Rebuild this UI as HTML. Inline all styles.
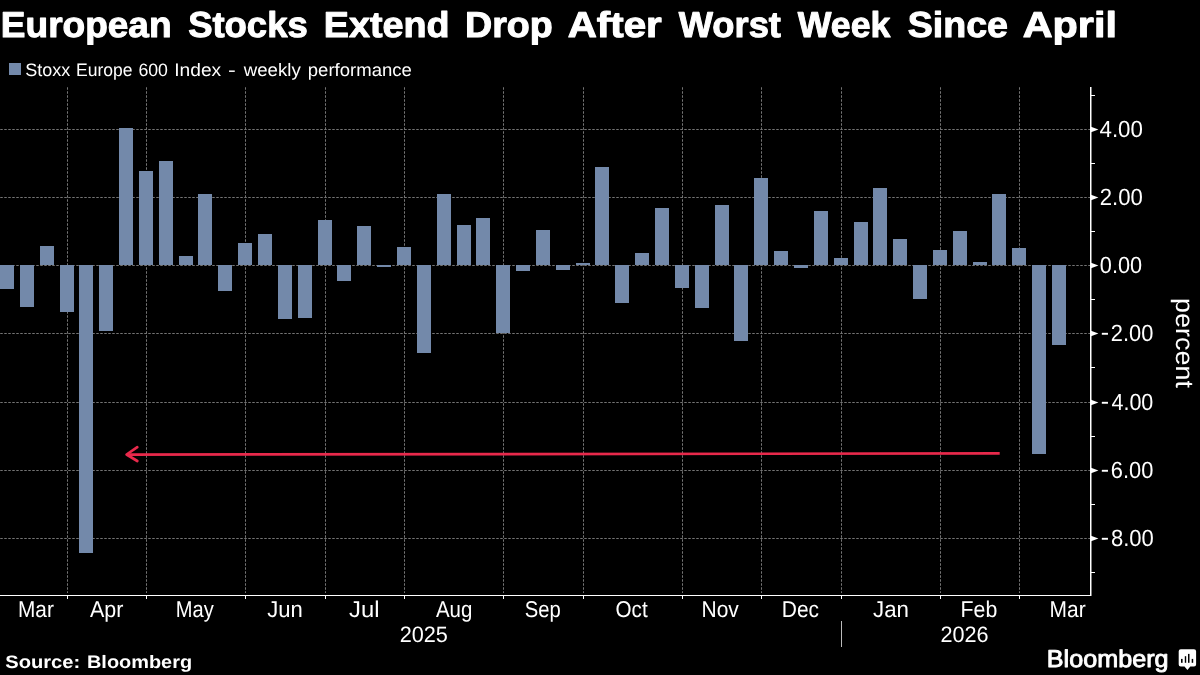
<!DOCTYPE html><html><head><meta charset="utf-8"><style>html,body{margin:0;padding:0;background:#000;}body{width:1200px;height:675px;overflow:hidden;}svg{display:block;will-change:transform;}text{font-family:"Liberation Sans",sans-serif;fill:#fff;white-space:pre;text-rendering:geometricPrecision;}</style></head><body>
<svg width="1200" height="675" viewBox="0 0 1200 675">
<rect width="1200" height="675" fill="#000"/>
<line x1="0" y1="129.5" x2="1090" y2="129.5" stroke="#747474" stroke-width="1" stroke-dasharray="2.5,1.5" stroke-dashoffset="-0.25"/>
<line x1="0" y1="197.5" x2="1090" y2="197.5" stroke="#747474" stroke-width="1" stroke-dasharray="2.5,1.5" stroke-dashoffset="-0.25"/>
<line x1="0" y1="265.5" x2="1090" y2="265.5" stroke="#747474" stroke-width="1" stroke-dasharray="2.5,1.5" stroke-dashoffset="-0.25"/>
<line x1="0" y1="333.5" x2="1090" y2="333.5" stroke="#747474" stroke-width="1" stroke-dasharray="2.5,1.5" stroke-dashoffset="-0.25"/>
<line x1="0" y1="402.5" x2="1090" y2="402.5" stroke="#747474" stroke-width="1" stroke-dasharray="2.5,1.5" stroke-dashoffset="-0.25"/>
<line x1="0" y1="470.5" x2="1090" y2="470.5" stroke="#747474" stroke-width="1" stroke-dasharray="2.5,1.5" stroke-dashoffset="-0.25"/>
<line x1="0" y1="538.5" x2="1090" y2="538.5" stroke="#747474" stroke-width="1" stroke-dasharray="2.5,1.5" stroke-dashoffset="-0.25"/>
<line x1="67.5" y1="87" x2="67.5" y2="593" stroke="#747474" stroke-width="1" stroke-dasharray="2.5,1.5" stroke-dashoffset="-0.25"/>
<line x1="146.5" y1="87" x2="146.5" y2="593" stroke="#747474" stroke-width="1" stroke-dasharray="2.5,1.5" stroke-dashoffset="-0.25"/>
<line x1="245.5" y1="87" x2="245.5" y2="593" stroke="#747474" stroke-width="1" stroke-dasharray="2.5,1.5" stroke-dashoffset="-0.25"/>
<line x1="325.5" y1="87" x2="325.5" y2="593" stroke="#747474" stroke-width="1" stroke-dasharray="2.5,1.5" stroke-dashoffset="-0.25"/>
<line x1="404.5" y1="87" x2="404.5" y2="593" stroke="#747474" stroke-width="1" stroke-dasharray="2.5,1.5" stroke-dashoffset="-0.25"/>
<line x1="503.5" y1="87" x2="503.5" y2="593" stroke="#747474" stroke-width="1" stroke-dasharray="2.5,1.5" stroke-dashoffset="-0.25"/>
<line x1="583.5" y1="87" x2="583.5" y2="593" stroke="#747474" stroke-width="1" stroke-dasharray="2.5,1.5" stroke-dashoffset="-0.25"/>
<line x1="682.5" y1="87" x2="682.5" y2="593" stroke="#747474" stroke-width="1" stroke-dasharray="2.5,1.5" stroke-dashoffset="-0.25"/>
<line x1="761.5" y1="87" x2="761.5" y2="593" stroke="#747474" stroke-width="1" stroke-dasharray="2.5,1.5" stroke-dashoffset="-0.25"/>
<line x1="841.5" y1="87" x2="841.5" y2="593" stroke="#747474" stroke-width="1" stroke-dasharray="2.5,1.5" stroke-dashoffset="-0.25"/>
<line x1="940.5" y1="87" x2="940.5" y2="593" stroke="#747474" stroke-width="1" stroke-dasharray="2.5,1.5" stroke-dashoffset="-0.25"/>
<line x1="1019.5" y1="87" x2="1019.5" y2="593" stroke="#747474" stroke-width="1" stroke-dasharray="2.5,1.5" stroke-dashoffset="-0.25"/>
<rect x="0" y="265" width="14" height="24" fill="#7389AA"/>
<rect x="20" y="265" width="14" height="42" fill="#7389AA"/>
<rect x="40" y="246" width="14" height="19" fill="#7389AA"/>
<rect x="60" y="265" width="14" height="47" fill="#7389AA"/>
<rect x="79" y="265" width="14" height="288" fill="#7389AA"/>
<rect x="99" y="265" width="14" height="66" fill="#7389AA"/>
<rect x="119" y="128" width="14" height="137" fill="#7389AA"/>
<rect x="139" y="171" width="14" height="94" fill="#7389AA"/>
<rect x="159" y="161" width="14" height="104" fill="#7389AA"/>
<rect x="179" y="256" width="14" height="9" fill="#7389AA"/>
<rect x="198" y="194" width="14" height="71" fill="#7389AA"/>
<rect x="218" y="265" width="14" height="26" fill="#7389AA"/>
<rect x="238" y="243" width="14" height="22" fill="#7389AA"/>
<rect x="258" y="234" width="14" height="31" fill="#7389AA"/>
<rect x="278" y="265" width="14" height="54" fill="#7389AA"/>
<rect x="298" y="265" width="14" height="53" fill="#7389AA"/>
<rect x="318" y="220" width="14" height="45" fill="#7389AA"/>
<rect x="337" y="265" width="14" height="16" fill="#7389AA"/>
<rect x="357" y="226" width="14" height="39" fill="#7389AA"/>
<rect x="377" y="265" width="14" height="2" fill="#7389AA"/>
<rect x="397" y="247" width="14" height="18" fill="#7389AA"/>
<rect x="417" y="265" width="14" height="88" fill="#7389AA"/>
<rect x="437" y="194" width="14" height="71" fill="#7389AA"/>
<rect x="457" y="225" width="14" height="40" fill="#7389AA"/>
<rect x="476" y="218" width="14" height="47" fill="#7389AA"/>
<rect x="496" y="265" width="14" height="68" fill="#7389AA"/>
<rect x="516" y="265" width="14" height="6" fill="#7389AA"/>
<rect x="536" y="230" width="14" height="35" fill="#7389AA"/>
<rect x="556" y="265" width="14" height="5" fill="#7389AA"/>
<rect x="576" y="263" width="14" height="2" fill="#7389AA"/>
<rect x="595" y="167" width="14" height="98" fill="#7389AA"/>
<rect x="615" y="265" width="14" height="38" fill="#7389AA"/>
<rect x="635" y="253" width="14" height="12" fill="#7389AA"/>
<rect x="655" y="208" width="14" height="57" fill="#7389AA"/>
<rect x="675" y="265" width="14" height="23" fill="#7389AA"/>
<rect x="695" y="265" width="14" height="43" fill="#7389AA"/>
<rect x="715" y="205" width="14" height="60" fill="#7389AA"/>
<rect x="734" y="265" width="14" height="76" fill="#7389AA"/>
<rect x="754" y="178" width="14" height="87" fill="#7389AA"/>
<rect x="774" y="251" width="14" height="14" fill="#7389AA"/>
<rect x="794" y="265" width="14" height="3" fill="#7389AA"/>
<rect x="814" y="211" width="14" height="54" fill="#7389AA"/>
<rect x="834" y="258" width="14" height="7" fill="#7389AA"/>
<rect x="854" y="222" width="14" height="43" fill="#7389AA"/>
<rect x="873" y="188" width="14" height="77" fill="#7389AA"/>
<rect x="893" y="239" width="14" height="26" fill="#7389AA"/>
<rect x="913" y="265" width="14" height="34" fill="#7389AA"/>
<rect x="933" y="250" width="14" height="15" fill="#7389AA"/>
<rect x="953" y="231" width="14" height="34" fill="#7389AA"/>
<rect x="973" y="262" width="14" height="3" fill="#7389AA"/>
<rect x="992" y="194" width="14" height="71" fill="#7389AA"/>
<rect x="1012" y="248" width="14" height="17" fill="#7389AA"/>
<rect x="1032" y="265" width="14" height="189" fill="#7389AA"/>
<rect x="1052" y="265" width="14" height="80" fill="#7389AA"/>
<line x1="127" y1="454.53" x2="999.7" y2="453.45" stroke="#E8294B" stroke-width="2.7"/>
<polyline points="137.3,447.2 126.6,454.5 137.3,461.0" fill="none" stroke="#E8294B" stroke-width="2.7" stroke-linejoin="round" stroke-linecap="round"/>
<line x1="1090.75" y1="87" x2="1090.75" y2="596" stroke="#fff" stroke-width="1.5"/>
<line x1="0" y1="595.5" x2="1091" y2="595.5" stroke="#fff" stroke-width="1.1"/>
<line x1="67.5" y1="595" x2="67.5" y2="599" stroke="#fff" stroke-width="1"/>
<line x1="146.5" y1="595" x2="146.5" y2="599" stroke="#fff" stroke-width="1"/>
<line x1="245.5" y1="595" x2="245.5" y2="599" stroke="#fff" stroke-width="1"/>
<line x1="325.5" y1="595" x2="325.5" y2="599" stroke="#fff" stroke-width="1"/>
<line x1="404.5" y1="595" x2="404.5" y2="599" stroke="#fff" stroke-width="1"/>
<line x1="503.5" y1="595" x2="503.5" y2="599" stroke="#fff" stroke-width="1"/>
<line x1="583.5" y1="595" x2="583.5" y2="599" stroke="#fff" stroke-width="1"/>
<line x1="682.5" y1="595" x2="682.5" y2="599" stroke="#fff" stroke-width="1"/>
<line x1="761.5" y1="595" x2="761.5" y2="599" stroke="#fff" stroke-width="1"/>
<line x1="841.5" y1="595" x2="841.5" y2="599" stroke="#fff" stroke-width="1"/>
<line x1="940.5" y1="595" x2="940.5" y2="599" stroke="#fff" stroke-width="1"/>
<line x1="1019.5" y1="595" x2="1019.5" y2="599" stroke="#fff" stroke-width="1"/>
<line x1="1091" y1="572.5" x2="1095" y2="572.5" stroke="#fff" stroke-width="1"/>
<polygon points="1091,535.7 1098.4,538.5 1091,541.3" fill="#fff"/>
<text x="1100.89" y="544.8" font-size="23.4" textLength="8.32" lengthAdjust="spacingAndGlyphs">-</text>
<text x="1110.94" y="546.4" font-size="23.4" textLength="42.92" lengthAdjust="spacingAndGlyphs">8.00</text>
<line x1="1091" y1="504.5" x2="1095" y2="504.5" stroke="#fff" stroke-width="1"/>
<polygon points="1091,467.7 1098.4,470.5 1091,473.3" fill="#fff"/>
<text x="1100.89" y="476.8" font-size="23.4" textLength="8.32" lengthAdjust="spacingAndGlyphs">-</text>
<text x="1110.79" y="478.4" font-size="23.4" textLength="42.56" lengthAdjust="spacingAndGlyphs">6.00</text>
<line x1="1091" y1="436.5" x2="1095" y2="436.5" stroke="#fff" stroke-width="1"/>
<polygon points="1091,399.7 1098.4,402.5 1091,405.3" fill="#fff"/>
<text x="1100.89" y="408.8" font-size="23.4" textLength="8.32" lengthAdjust="spacingAndGlyphs">-</text>
<text x="1111.41" y="410.4" font-size="23.4" textLength="41.94" lengthAdjust="spacingAndGlyphs">4.00</text>
<line x1="1091" y1="367.5" x2="1095" y2="367.5" stroke="#fff" stroke-width="1"/>
<polygon points="1091,330.7 1098.4,333.5 1091,336.3" fill="#fff"/>
<text x="1100.89" y="339.8" font-size="23.4" textLength="8.32" lengthAdjust="spacingAndGlyphs">-</text>
<text x="1110.80" y="341.4" font-size="23.4" textLength="42.55" lengthAdjust="spacingAndGlyphs">2.00</text>
<line x1="1091" y1="299.5" x2="1095" y2="299.5" stroke="#fff" stroke-width="1"/>
<polygon points="1091,262.7 1098.4,265.5 1091,268.3" fill="#fff"/>
<text x="1099.85" y="273.4" font-size="23.4" textLength="42.30" lengthAdjust="spacingAndGlyphs">0.00</text>
<line x1="1091" y1="231.5" x2="1095" y2="231.5" stroke="#fff" stroke-width="1"/>
<polygon points="1091,194.7 1098.4,197.5 1091,200.3" fill="#fff"/>
<text x="1099.69" y="205.4" font-size="23.4" textLength="43.08" lengthAdjust="spacingAndGlyphs">2.00</text>
<line x1="1091" y1="163.5" x2="1095" y2="163.5" stroke="#fff" stroke-width="1"/>
<polygon points="1091,126.7 1098.4,129.5 1091,132.3" fill="#fff"/>
<text x="1099.49" y="137.4" font-size="23.4" textLength="43.38" lengthAdjust="spacingAndGlyphs">4.00</text>
<line x1="1091" y1="95.5" x2="1095" y2="95.5" stroke="#fff" stroke-width="1"/>
<text x="298.06" y="0" font-size="25" textLength="89.83" lengthAdjust="spacingAndGlyphs" transform="translate(1175.6,0) rotate(90 0 0)">percent</text>
<text x="17.99" y="616.8" font-size="22.8" textLength="35.85" lengthAdjust="spacingAndGlyphs">Mar</text>
<text x="89.96" y="616.8" font-size="22.8" textLength="33.40" lengthAdjust="spacingAndGlyphs">Apr</text>
<text x="175.85" y="616.8" font-size="22.8" textLength="37.94" lengthAdjust="spacingAndGlyphs">May</text>
<text x="267.16" y="616.8" font-size="22.8" textLength="35.53" lengthAdjust="spacingAndGlyphs">Jun</text>
<text x="349.13" y="616.8" font-size="22.8" textLength="30.47" lengthAdjust="spacingAndGlyphs">Jul</text>
<text x="435.96" y="616.8" font-size="22.8" textLength="36.36" lengthAdjust="spacingAndGlyphs">Aug</text>
<text x="524.83" y="616.8" font-size="22.8" textLength="36.02" lengthAdjust="spacingAndGlyphs">Sep</text>
<text x="615.52" y="616.8" font-size="22.8" textLength="32.13" lengthAdjust="spacingAndGlyphs">Oct</text>
<text x="701.53" y="616.8" font-size="22.8" textLength="37.29" lengthAdjust="spacingAndGlyphs">Nov</text>
<text x="781.78" y="616.8" font-size="22.8" textLength="37.27" lengthAdjust="spacingAndGlyphs">Dec</text>
<text x="873.05" y="616.8" font-size="22.8" textLength="35.89" lengthAdjust="spacingAndGlyphs">Jan</text>
<text x="960.55" y="616.8" font-size="22.8" textLength="36.74" lengthAdjust="spacingAndGlyphs">Feb</text>
<text x="1049.58" y="616.8" font-size="22.8" textLength="36.07" lengthAdjust="spacingAndGlyphs">Mar</text>
<text x="399.66" y="641.8" font-size="22.2" textLength="48.25" lengthAdjust="spacingAndGlyphs">2025</text>
<text x="940.51" y="642" font-size="22.2" textLength="48.14" lengthAdjust="spacingAndGlyphs">2026</text>
<line x1="841.5" y1="621" x2="841.5" y2="647" stroke="#bbb" stroke-width="1"/>
<text x="0.82" y="36.6" font-size="36.0" font-weight="bold" textLength="170.77" lengthAdjust="spacingAndGlyphs" stroke="#fff" stroke-width="1.0" stroke-linejoin="round">European</text>
<text x="188.15" y="36.6" font-size="36.0" font-weight="bold" textLength="119.55" lengthAdjust="spacingAndGlyphs" stroke="#fff" stroke-width="1.0" stroke-linejoin="round">Stocks</text>
<text x="323.78" y="36.6" font-size="36.0" font-weight="bold" textLength="125.71" lengthAdjust="spacingAndGlyphs" stroke="#fff" stroke-width="1.0" stroke-linejoin="round">Extend</text>
<text x="464.98" y="36.6" font-size="36.0" font-weight="bold" textLength="87.76" lengthAdjust="spacingAndGlyphs" stroke="#fff" stroke-width="1.0" stroke-linejoin="round">Drop</text>
<text x="567.70" y="36.6" font-size="36.0" font-weight="bold" textLength="94.11" lengthAdjust="spacingAndGlyphs" stroke="#fff" stroke-width="1.0" stroke-linejoin="round">After</text>
<text x="678.76" y="36.6" font-size="36.0" font-weight="bold" textLength="102.18" lengthAdjust="spacingAndGlyphs" stroke="#fff" stroke-width="1.0" stroke-linejoin="round">Worst</text>
<text x="797.87" y="36.6" font-size="36.0" font-weight="bold" textLength="92.50" lengthAdjust="spacingAndGlyphs" stroke="#fff" stroke-width="1.0" stroke-linejoin="round">Week</text>
<text x="907.72" y="36.6" font-size="36.0" font-weight="bold" textLength="100.27" lengthAdjust="spacingAndGlyphs" stroke="#fff" stroke-width="1.0" stroke-linejoin="round">Since</text>
<text x="1022.67" y="36.6" font-size="36.0" font-weight="bold" textLength="94.26" lengthAdjust="spacingAndGlyphs" stroke="#fff" stroke-width="1.0" stroke-linejoin="round">April</text>
<rect x="9" y="63" width="12" height="12" fill="#7389AA"/>
<text x="25.18" y="76" font-size="18" fill="#f2f2f2" textLength="45.01" lengthAdjust="spacingAndGlyphs">Stoxx</text>
<text x="76.06" y="76" font-size="18" fill="#f2f2f2" textLength="56.52" lengthAdjust="spacingAndGlyphs">Europe</text>
<text x="138.40" y="76" font-size="18" fill="#f2f2f2" textLength="29.59" lengthAdjust="spacingAndGlyphs">600</text>
<text x="174.23" y="76" font-size="18" fill="#f2f2f2" textLength="46.98" lengthAdjust="spacingAndGlyphs">Index</text>
<text x="227.96" y="76" font-size="18" fill="#f2f2f2" textLength="7.77" lengthAdjust="spacingAndGlyphs">-</text>
<text x="243.78" y="76" font-size="18" fill="#f2f2f2" textLength="57.01" lengthAdjust="spacingAndGlyphs">weekly</text>
<text x="307.81" y="76" font-size="18" fill="#f2f2f2" textLength="104.02" lengthAdjust="spacingAndGlyphs">performance</text>
<text x="5.22" y="667.5" font-size="18" font-weight="bold" textLength="75.02" lengthAdjust="spacingAndGlyphs">Source:</text>
<text x="86.97" y="667.5" font-size="18" font-weight="bold" textLength="105.17" lengthAdjust="spacingAndGlyphs">Bloomberg</text>
<text x="1046.78" y="666.8" font-size="24.3" textLength="121.79" lengthAdjust="spacingAndGlyphs" stroke="#fff" stroke-width="0.9" stroke-linejoin="round">Bloomberg</text>
<path d="M1180.8,649.2 h13.2 a2.1,2.1 0 0 1 2.1,2.1 v13.2 a2.1,2.1 0 0 1 -2.1,2.1 h-3.7 l-2.9,3.3 l-2.9,-3.3 h-3.7 a2.1,2.1 0 0 1 -2.1,-2.1 v-13.2 a2.1,2.1 0 0 1 2.1,-2.1 z" fill="#fff"/>
<rect x="1181" y="658.9" width="1.6" height="3.9" fill="#000"/>
<rect x="1184.8" y="656.2" width="1.4" height="6.6" fill="#000"/>
<rect x="1188" y="653.9" width="1.5" height="8.9" fill="#000"/>
<rect x="1191.7" y="658.9" width="1.5" height="3.9" fill="#000"/>
</svg></body></html>
